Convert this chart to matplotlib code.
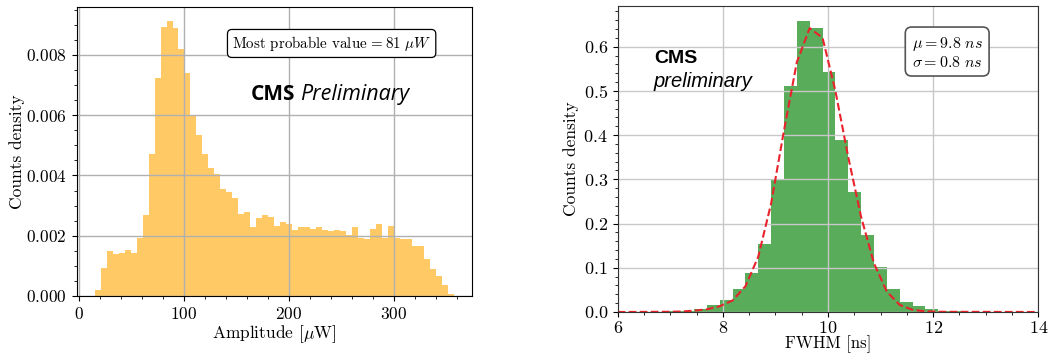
import numpy as np
import matplotlib
matplotlib.use("Agg")
import matplotlib.pyplot as plt
from matplotlib.ticker import AutoMinorLocator, MultipleLocator

# amplitude histogram (density), 60 equal bins
amp_lo, amp_hi, amp_nbins = 14.87, 357.0, 60
amp_density = [0.0002, 0.00094, 0.0015, 0.0014, 0.00143, 0.00153, 0.00143, 0.00193, 0.00269, 0.00471,
               0.00724, 0.00894, 0.00914, 0.00888, 0.0082, 0.0074, 0.0060, 0.00535, 0.0047, 0.00425,
               0.00405, 0.00355, 0.00345, 0.00326, 0.00273, 0.00279, 0.00229, 0.00259, 0.00269, 0.00263,
               0.00233, 0.00246, 0.0024, 0.00219, 0.00229, 0.00229, 0.00222, 0.00229, 0.0022, 0.00217,
               0.00219, 0.00216, 0.00203, 0.00229, 0.00193, 0.00189, 0.00222, 0.0024, 0.00194, 0.00233,
               0.00194, 0.00189, 0.00189, 0.00166, 0.00166, 0.00123, 0.00089, 0.00066, 0.00037, 0.00007]

# FWHM histogram (density), 28 equal bins
fwhm_lo, fwhm_width, fwhm_nbins = 6.228, 0.2446, 28
fwhm_density = [0.0005, 0.0005, 0.001, 0.002, 0.003, 0.006, 0.016, 0.026, 0.053, 0.089,
                0.154, 0.298, 0.512, 0.659, 0.643, 0.542, 0.389, 0.271, 0.174, 0.101,
                0.051, 0.023, 0.014, 0.006, 0.003, 0.0015, 0.0008, 0.0005]

# fitted curve
fit_x = [6.0, 6.962, 7.206, 7.451, 7.695, 7.940, 8.185, 8.429, 8.674, 8.918, 9.163, 9.408,
         9.652, 9.897, 10.141, 10.386, 10.630, 10.875, 11.120, 11.364, 11.609, 11.853, 12.098, 14.0]
fit_y = [0.0, 0.0005, 0.001, 0.003, 0.006, 0.013, 0.026, 0.058, 0.125, 0.245, 0.41, 0.565,
         0.642, 0.62, 0.50, 0.35, 0.215, 0.11, 0.046, 0.016, 0.005, 0.0015, 0.0005, 0.0]

plt.rcParams["font.family"] = "serif"
plt.rcParams["font.serif"] = ["cmr10"]
plt.rcParams["mathtext.fontset"] = "cm"
plt.rcParams["axes.formatter.use_mathtext"] = True

fig = plt.figure(figsize=(10.49, 3.58), dpi=100)

# left panel: amplitude
ax1 = fig.add_axes([0.0731, 0.1732, 0.3768, 0.808])
amp_edges = np.linspace(amp_lo, amp_hi, amp_nbins + 1)
ax1.hist(amp_edges[:-1], bins=amp_edges, weights=amp_density, color="orange", alpha=0.6)
ax1.grid(True, color="#b0b0b0", linewidth=1.0)
ax1.xaxis.set_major_locator(MultipleLocator(100))
ax1.yaxis.set_major_locator(MultipleLocator(0.002))
ax1.xaxis.set_minor_locator(AutoMinorLocator())
ax1.yaxis.set_minor_locator(AutoMinorLocator())
ax1.tick_params(labelsize=12.5)
ax1.set_xlabel(r"Amplitude [$\mu$W]", fontsize=12.5, labelpad=1)
ax1.set_ylabel("Counts density", fontsize=12.5, labelpad=1)
ax1.text(0.645, 0.873, r"Most probable value$\,=81\ \mu W$", transform=ax1.transAxes,
         ha="center", va="center", fontsize=10.8,
         bbox=dict(boxstyle="round,pad=0.3", fc="white", ec="black", lw=0.9))
ax1.text(0.44, 0.6775, "CMS", transform=ax1.transAxes, family="Open Sans",
         weight="bold", fontsize=15, va="baseline")
ax1.text(0.566, 0.6775, "Preliminary", transform=ax1.transAxes, family="Open Sans",
         style="italic", fontsize=15.5, va="baseline")

# right panel: FWHM
ax2 = fig.add_axes([0.5888, 0.1285, 0.401, 0.8547])
fwhm_edges = fwhm_lo + fwhm_width * np.arange(fwhm_nbins + 1)
ax2.hist(fwhm_edges[:-1], bins=fwhm_edges, weights=fwhm_density, color="green", alpha=0.65)
ax2.plot(fit_x, fit_y, "--", color="#e8232b", linewidth=1.5)
ax2.set_xlim(6, 14)
ax2.grid(True, color="#c8c8c8", linewidth=1.0)
ax2.xaxis.set_major_locator(MultipleLocator(2))
ax2.yaxis.set_major_locator(MultipleLocator(0.1))
ax2.xaxis.set_minor_locator(AutoMinorLocator())
ax2.yaxis.set_minor_locator(AutoMinorLocator())
ax2.tick_params(labelsize=13)
ax2.tick_params(axis="x", pad=2)
for s in ax2.spines.values():
    s.set_color("#333333")
ax2.set_xlabel("FWHM [ns]", fontsize=12, labelpad=0)
ax2.set_ylabel("Counts density", fontsize=12.5, labelpad=3)
ax2.text(0.7834, 0.848, r"$\mu=9.8\ ns$" "\n" r"$\sigma=0.8\ ns$", transform=ax2.transAxes,
         ha="center", va="center", fontsize=11.5, linespacing=1.1,
         bbox=dict(boxstyle="round,pad=0.4", fc="white", ec="#555555", lw=1.2))
ax2.text(0.0863, 0.8127, "CMS", transform=ax2.transAxes, family="Liberation Sans",
         weight="bold", fontsize=14, va="baseline")
ax2.text(0.0863, 0.734, "preliminary", transform=ax2.transAxes, family="Liberation Sans",
         style="italic", fontsize=14.5, va="baseline")

fig.savefig("out.png", dpi=100)
